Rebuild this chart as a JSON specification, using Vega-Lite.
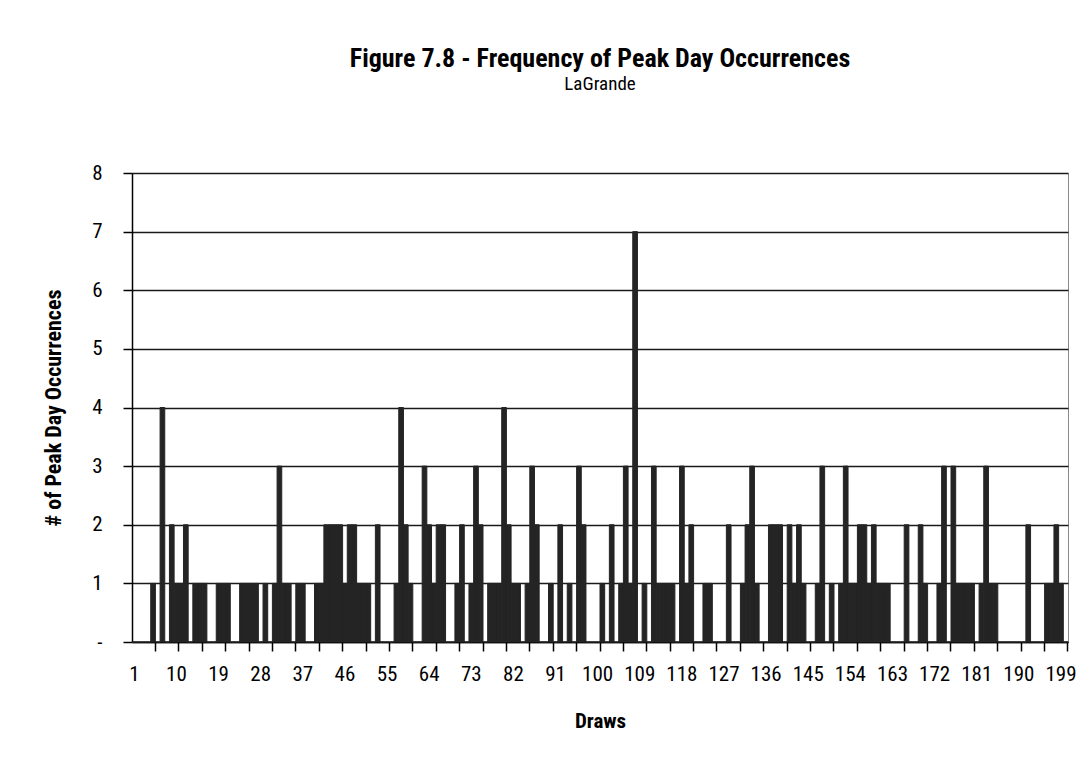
{
  "$schema": "https://vega.github.io/schema/vega-lite/v6.json",
  "width": 936,
  "height": 469,
  "autosize": {"type": "none"},
  "padding": {"left": 132, "top": 173, "right": 23, "bottom": 129},
  "background": "white",
  "config": {
    "font": "Liberation Sans Narrow, Roboto Condensed, DejaVu Sans Condensed, Liberation Sans",
    "view": {"stroke": "#8a8a8a", "strokeWidth": 1},
    "scale": {"bandPaddingInner": 0, "bandPaddingOuter": 0}
  },
  "title": {
    "text": "Figure 7.8 - Frequency of Peak Day Occurrences",
    "subtitle": "LaGrande",
    "anchor": "middle",
    "fontSize": 26,
    "fontWeight": "bold",
    "color": "black",
    "subtitleFontSize": 19,
    "subtitleColor": "black",
    "subtitlePadding": 3,
    "offset": 68
  },
  "data": {
    "values": [
      {"draw": 1, "count": 0}, {"draw": 2, "count": 0}, {"draw": 3, "count": 0}, {"draw": 4, "count": 0}, {"draw": 5, "count": 1},
      {"draw": 6, "count": 0}, {"draw": 7, "count": 4}, {"draw": 8, "count": 0}, {"draw": 9, "count": 2}, {"draw": 10, "count": 1},
      {"draw": 11, "count": 1}, {"draw": 12, "count": 2}, {"draw": 13, "count": 0}, {"draw": 14, "count": 1}, {"draw": 15, "count": 1},
      {"draw": 16, "count": 1}, {"draw": 17, "count": 0}, {"draw": 18, "count": 0}, {"draw": 19, "count": 1}, {"draw": 20, "count": 1},
      {"draw": 21, "count": 1}, {"draw": 22, "count": 0}, {"draw": 23, "count": 0}, {"draw": 24, "count": 1}, {"draw": 25, "count": 1},
      {"draw": 26, "count": 1}, {"draw": 27, "count": 1}, {"draw": 28, "count": 0}, {"draw": 29, "count": 1}, {"draw": 30, "count": 0},
      {"draw": 31, "count": 1}, {"draw": 32, "count": 3}, {"draw": 33, "count": 1}, {"draw": 34, "count": 1}, {"draw": 35, "count": 0},
      {"draw": 36, "count": 1}, {"draw": 37, "count": 1}, {"draw": 38, "count": 0}, {"draw": 39, "count": 0}, {"draw": 40, "count": 1},
      {"draw": 41, "count": 1}, {"draw": 42, "count": 2}, {"draw": 43, "count": 2}, {"draw": 44, "count": 2}, {"draw": 45, "count": 2},
      {"draw": 46, "count": 1}, {"draw": 47, "count": 2}, {"draw": 48, "count": 2}, {"draw": 49, "count": 1}, {"draw": 50, "count": 1},
      {"draw": 51, "count": 1}, {"draw": 52, "count": 0}, {"draw": 53, "count": 2}, {"draw": 54, "count": 0}, {"draw": 55, "count": 0},
      {"draw": 56, "count": 0}, {"draw": 57, "count": 1}, {"draw": 58, "count": 4}, {"draw": 59, "count": 2}, {"draw": 60, "count": 1},
      {"draw": 61, "count": 0}, {"draw": 62, "count": 0}, {"draw": 63, "count": 3}, {"draw": 64, "count": 2}, {"draw": 65, "count": 1},
      {"draw": 66, "count": 2}, {"draw": 67, "count": 2}, {"draw": 68, "count": 0}, {"draw": 69, "count": 0}, {"draw": 70, "count": 1},
      {"draw": 71, "count": 2}, {"draw": 72, "count": 0}, {"draw": 73, "count": 1}, {"draw": 74, "count": 3}, {"draw": 75, "count": 2},
      {"draw": 76, "count": 0}, {"draw": 77, "count": 1}, {"draw": 78, "count": 1}, {"draw": 79, "count": 1}, {"draw": 80, "count": 4},
      {"draw": 81, "count": 2}, {"draw": 82, "count": 1}, {"draw": 83, "count": 1}, {"draw": 84, "count": 0}, {"draw": 85, "count": 1},
      {"draw": 86, "count": 3}, {"draw": 87, "count": 2}, {"draw": 88, "count": 0}, {"draw": 89, "count": 0}, {"draw": 90, "count": 1},
      {"draw": 91, "count": 0}, {"draw": 92, "count": 2}, {"draw": 93, "count": 0}, {"draw": 94, "count": 1}, {"draw": 95, "count": 0},
      {"draw": 96, "count": 3}, {"draw": 97, "count": 2}, {"draw": 98, "count": 0}, {"draw": 99, "count": 0}, {"draw": 100, "count": 0},
      {"draw": 101, "count": 1}, {"draw": 102, "count": 0}, {"draw": 103, "count": 2}, {"draw": 104, "count": 0}, {"draw": 105, "count": 1},
      {"draw": 106, "count": 3}, {"draw": 107, "count": 1}, {"draw": 108, "count": 7}, {"draw": 109, "count": 0}, {"draw": 110, "count": 1},
      {"draw": 111, "count": 0}, {"draw": 112, "count": 3}, {"draw": 113, "count": 1}, {"draw": 114, "count": 1}, {"draw": 115, "count": 1},
      {"draw": 116, "count": 1}, {"draw": 117, "count": 0}, {"draw": 118, "count": 3}, {"draw": 119, "count": 1}, {"draw": 120, "count": 2},
      {"draw": 121, "count": 0}, {"draw": 122, "count": 0}, {"draw": 123, "count": 1}, {"draw": 124, "count": 1}, {"draw": 125, "count": 0},
      {"draw": 126, "count": 0}, {"draw": 127, "count": 0}, {"draw": 128, "count": 2}, {"draw": 129, "count": 0}, {"draw": 130, "count": 0},
      {"draw": 131, "count": 1}, {"draw": 132, "count": 2}, {"draw": 133, "count": 3}, {"draw": 134, "count": 1}, {"draw": 135, "count": 0},
      {"draw": 136, "count": 0}, {"draw": 137, "count": 2}, {"draw": 138, "count": 2}, {"draw": 139, "count": 2}, {"draw": 140, "count": 0},
      {"draw": 141, "count": 2}, {"draw": 142, "count": 1}, {"draw": 143, "count": 2}, {"draw": 144, "count": 1}, {"draw": 145, "count": 0},
      {"draw": 146, "count": 0}, {"draw": 147, "count": 1}, {"draw": 148, "count": 3}, {"draw": 149, "count": 0}, {"draw": 150, "count": 1},
      {"draw": 151, "count": 0}, {"draw": 152, "count": 1}, {"draw": 153, "count": 3}, {"draw": 154, "count": 1}, {"draw": 155, "count": 1},
      {"draw": 156, "count": 2}, {"draw": 157, "count": 2}, {"draw": 158, "count": 1}, {"draw": 159, "count": 2}, {"draw": 160, "count": 1},
      {"draw": 161, "count": 1}, {"draw": 162, "count": 1}, {"draw": 163, "count": 0}, {"draw": 164, "count": 0}, {"draw": 165, "count": 0},
      {"draw": 166, "count": 2}, {"draw": 167, "count": 0}, {"draw": 168, "count": 0}, {"draw": 169, "count": 2}, {"draw": 170, "count": 1},
      {"draw": 171, "count": 0}, {"draw": 172, "count": 0}, {"draw": 173, "count": 1}, {"draw": 174, "count": 3}, {"draw": 175, "count": 0},
      {"draw": 176, "count": 3}, {"draw": 177, "count": 1}, {"draw": 178, "count": 1}, {"draw": 179, "count": 1}, {"draw": 180, "count": 1},
      {"draw": 181, "count": 0}, {"draw": 182, "count": 1}, {"draw": 183, "count": 3}, {"draw": 184, "count": 1}, {"draw": 185, "count": 1},
      {"draw": 186, "count": 0}, {"draw": 187, "count": 0}, {"draw": 188, "count": 0}, {"draw": 189, "count": 0}, {"draw": 190, "count": 0},
      {"draw": 191, "count": 0}, {"draw": 192, "count": 2}, {"draw": 193, "count": 0}, {"draw": 194, "count": 0}, {"draw": 195, "count": 0},
      {"draw": 196, "count": 1}, {"draw": 197, "count": 1}, {"draw": 198, "count": 2}, {"draw": 199, "count": 1}, {"draw": 200, "count": 0}
    ]
  },
  "layer": [
    {
      "mark": {"type": "bar", "color": "#242424", "stroke": "#242424", "strokeWidth": 1, "width": {"band": 1}},
      "encoding": {
        "x": {
          "field": "draw",
          "type": "ordinal",
          "scale": {"paddingInner": 0, "paddingOuter": 0},
          "axis": {
            "orient": "bottom",
            "title": "Draws",
            "titleFontSize": 21,
            "titleFontWeight": "bold",
            "titleColor": "black",
            "titlePadding": 26,
            "values": [1, 10, 19, 28, 37, 46, 55, 64, 73, 82, 91, 100, 109, 118, 127, 136, 145, 154, 163, 172, 181, 190, 199],
            "labelAngle": 0,
            "labelFontSize": 21,
            "labelColor": "black",
            "labelPadding": 21,
            "ticks": false,
            "tickSize": 0,
            "domain": true,
            "domainColor": "black",
            "domainWidth": 1.5,
            "grid": false
          }
        },
        "y": {
          "field": "count",
          "type": "quantitative",
          "scale": {"domain": [0, 8], "nice": false},
          "axis": {
            "title": "# of Peak Day Occurrences",
            "titleFontSize": 22,
            "titleFontWeight": "bold",
            "titleColor": "black",
            "titlePadding": 26,
            "values": [0, 1, 2, 3, 4, 5, 6, 7, 8],
            "labelExpr": "datum.value == 0 ? '-\u00a0\u00a0' : format(datum.value, 'd')",
            "labelFontSize": 21,
            "labelColor": "black",
            "labelPadding": 21,
            "tickSize": 9,
            "tickColor": "black",
            "tickWidth": 1.5,
            "domainColor": "black",
            "domainWidth": 1.5,
            "grid": true,
            "gridColor": "#1a1a1a",
            "gridWidth": 1.3
          }
        }
      }
    },
    {
      "mark": {"type": "bar", "opacity": 0},
      "encoding": {
        "x": {
          "field": "draw",
          "type": "ordinal",
          "axis": {
            "orient": "bottom",
            "title": null,
            "values": [5, 10, 15, 20, 25, 30, 35, 40, 45, 50, 55, 60, 65, 70, 75, 80, 85, 90, 95, 100, 105, 110, 115, 120, 125, 130, 135, 140, 145, 150, 155, 160, 165, 170, 175, 180, 185, 190, 195, 200],
            "bandPosition": 1,
            "labels": false,
            "ticks": true,
            "tickSize": 9,
            "tickColor": "black",
            "tickWidth": 1.5,
            "domain": false,
            "grid": false
          }
        },
        "y": {"field": "count", "type": "quantitative"}
      }
    }
  ],
  "resolve": {"axis": {"x": "independent"}}
}
